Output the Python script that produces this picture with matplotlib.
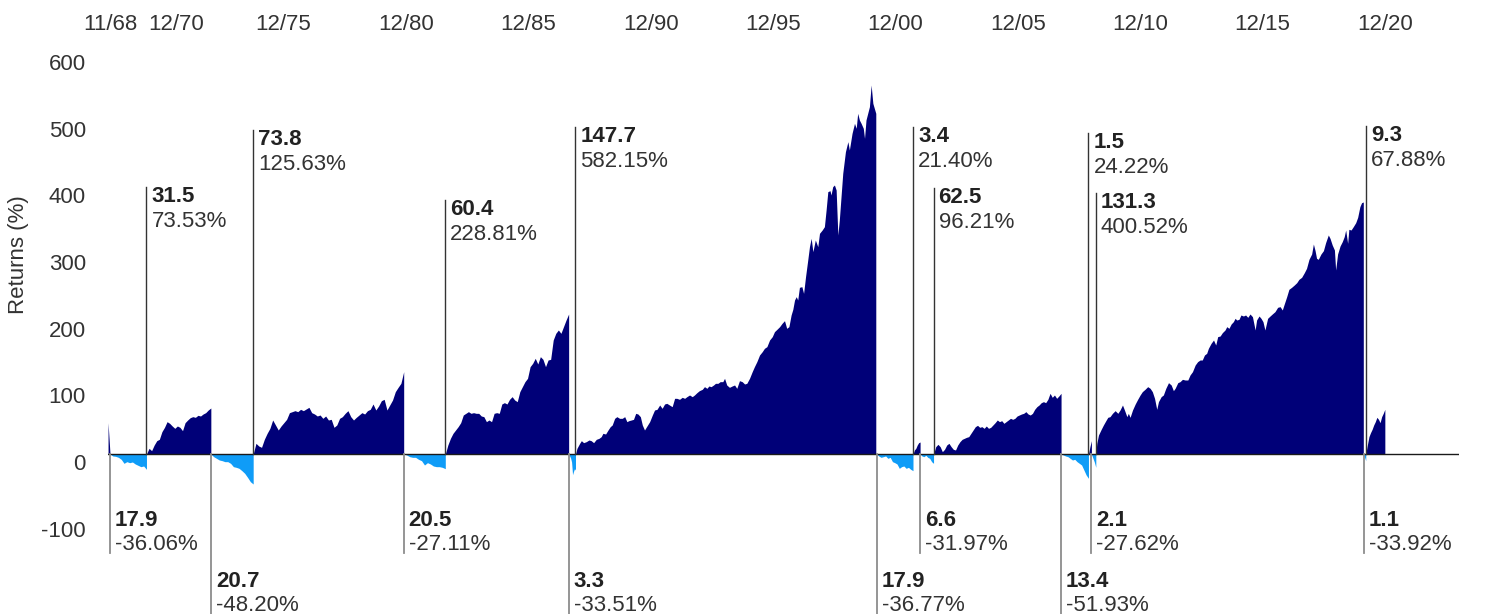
import numpy as np
import matplotlib.pyplot as plt
from matplotlib.transforms import ScaledTranslation

plt.rcParams['font.family'] = ['Liberation Sans', 'DejaVu Sans']

navy = '#000078'
sky = '#0f9cf7'

# each market: bear or bull, start date (decimal year), length in months, return
kinds = ['bear', 'bull', 'bear', 'bull', 'bear', 'bull', 'bear', 'bull', 'bear',
         'bull', 'bear', 'bull', 'bear', 'bull', 'bear', 'bull', 'bear', 'bull']
starts = [1968.91, 1970.40, 1973.03, 1974.76, 1980.91, 1982.61, 1987.65, 1987.93,
          2000.23, 2001.72, 2002.01, 2002.56, 2007.77, 2008.89, 2009.01, 2009.19,
          2020.13, 2020.22]
ends = starts[1:] + [2021.00]
months = ['17.9', '31.5', '20.7', '73.8', '20.5', '60.4', '3.3', '147.7', '17.9',
          '3.4', '6.6', '62.5', '13.4', '1.5', '2.1', '131.3', '1.1', '9.3']
returns = ['-36.06%', '73.53%', '-48.20%', '125.63%', '-27.11%', '228.81%', '-33.51%',
           '582.15%', '-36.77%', '21.40%', '-31.97%', '96.21%', '-51.93%', '24.22%',
           '-27.62%', '400.52%', '-33.92%', '67.88%']

# tail end of the 1966-68 bull market at the left edge
prev_dates = [1968.83, 1968.91]
prev_bull = [47, 0]

# cumulative return (%) inside each market
bear_1968 = [0, -3, -3.5, -5, -8, -14, -11.5, -13, -12, -15, -17, -19, -18, -23]
bull_1970 = [0, 8.5, 5, 13.5, 20, 22, 33.5, 40, 48.5, 46, 42, 38.5, 42, 40, 35, 47,
             51, 54.5, 56, 55, 58, 57, 60, 62, 66, 69]
bear_1973 = [0, -4, -6.5, -9, -10, -11.5, -11.5, -14, -19, -20, -21.5, -25, -29, -35,
             -41.5, -45]
bull_1974 = [0, 16, 12, 10, 22, 31, 38.5, 51, 43.5, 36, 42, 47, 52, 62, 63.5, 65, 63.5,
             67, 65, 67.5, 70, 62, 60, 57, 58.5, 53.5, 57, 51, 52, 40, 43.5, 53.5, 56,
             61, 65, 56, 51, 55, 58.5, 62, 60, 65, 67, 75, 66, 72, 80, 82, 66, 73.5, 81,
             93.5, 100, 106, 123.5]
bear_1980 = [0, -1.5, -4, -5, -5, -8, -10, -16.5, -13, -15, -18, -19, -19, -20, -22]
bull_1982 = [0, 13.5, 23.5, 31, 36, 41, 47, 58.5, 61, 63.5, 61, 62, 61, 61, 57, 56,
             48.5, 51, 48.5, 61, 62, 61, 75, 77, 75, 82, 86, 81, 78.5, 93.5, 101, 108.5,
             113.5, 131, 136, 143.5, 135, 146, 142, 131, 141, 142, 171, 181, 186, 181,
             191, 201, 210]
bear_1987 = [0, -3, -6, -12, -31, -26, -22, -24]
bull_1987_dates = [
    1987.93, 1987.99, 1988.10, 1988.17, 1988.26, 1988.37, 1988.48, 1988.57, 1988.67, 1988.78,
    1988.89, 1988.98, 1989.05, 1989.16, 1989.26, 1989.35, 1989.43, 1989.53, 1989.62, 1989.73,
    1989.84, 1989.94, 1990.03, 1990.11, 1990.21, 1990.30, 1990.39, 1990.48, 1990.58, 1990.66,
    1990.75, 1990.85, 1990.96, 1991.07, 1991.16, 1991.26, 1991.37, 1991.47, 1991.57, 1991.66,
    1991.77, 1991.88, 1991.98, 1992.07, 1992.18, 1992.29, 1992.39, 1992.48, 1992.59, 1992.70,
    1992.79, 1992.89, 1992.99, 1993.11, 1993.20, 1993.30, 1993.38, 1993.47, 1993.57, 1993.65,
    1993.75, 1993.84, 1993.95, 1994.02, 1994.11, 1994.22, 1994.33, 1994.43, 1994.52, 1994.63,
    1994.74, 1994.84, 1994.93, 1995.04, 1995.15, 1995.24, 1995.34, 1995.45, 1995.56, 1995.65,
    1995.75, 1995.86, 1995.97, 1996.06, 1996.16, 1996.27, 1996.37, 1996.47, 1996.56, 1996.65,
    1996.74, 1996.81, 1996.88, 1996.95, 1997.01, 1997.08, 1997.18, 1997.25, 1997.33, 1997.42,
    1997.49, 1997.56, 1997.63, 1997.73, 1997.83, 1997.90, 1998.01, 1998.10, 1998.17, 1998.24,
    1998.33, 1998.37, 1998.44, 1998.51, 1998.58, 1998.65, 1998.71, 1998.78, 1998.85, 1998.96,
    1999.06, 1999.12, 1999.23, 1999.33, 1999.40, 1999.46, 1999.53, 1999.60, 1999.69, 1999.74,
    1999.80, 1999.87, 1999.94, 2000.01, 2000.08, 2000.20]
bull_1987 = [
    0, 8.5, 16, 20, 17, 18.5, 21, 20, 17, 22,
    23.5, 26, 31, 30, 36, 41, 43.5, 53.5, 56, 53.5,
    53.5, 56, 48.5, 50, 51, 52, 61, 60, 56, 43.5,
    36, 42, 48.5, 58.5, 66, 67, 73.5, 68.5, 75, 76,
    73.5, 71, 83.5, 83.5, 82, 85, 83.5, 86, 88.5, 86,
    88.5, 92, 95, 97, 101, 98.5, 102, 101, 103.5, 106,
    106, 108.5, 108.5, 113.5, 103.5, 100, 102, 103.5, 98.5, 110,
    108.5, 105, 106, 113.5, 123.5, 131, 138.5, 148.5, 153.5, 158.5,
    161, 171, 176, 183.5, 187, 191, 196, 200, 188.5, 191,
    208.5, 217, 231, 236, 231, 250, 251, 241, 266, 291,
    311, 323.5, 303.5, 321, 311, 331, 336, 341, 366, 393.5,
    395, 388.5, 401, 403.5, 396, 328.5, 351, 386, 421, 453.5,
    468.5, 456, 481, 496, 488.5, 511, 501, 496, 488.5, 473.5,
    501, 511, 521, 553.5, 526, 511]
bear_2000 = [0, -3, -5, -4, -3, -6.5, -5, -11.5, -13, -15, -21.5, -19, -18, -21.5, -20,
             -23, -25]
bull_2001 = [0, 6, 8.5, 13.5, 17, 18]
bear_2002 = [0, -3, -4, -2, -5, -6.5, -11.5, -14]
bull_2002 = [0, 11, 14.5, 11, 3.5, 7, 13.5, 16, 11, 7, 6, 13.5, 18.5, 22, 23.5, 25, 26,
             31, 36, 41, 43, 40, 41, 38.5, 42, 38.5, 40, 43.5, 47, 51, 48.5, 50, 46, 48.5,
             51, 53.5, 52, 53.5, 57, 58.5, 60, 61, 63.5, 60, 58.5, 61, 67, 71, 73.5, 77,
             78.5, 77, 82, 91, 85, 88.5, 83.5, 87, 91]
bear_2007 = [0, -1.5, -3, -4, -6.5, -9, -8, -11.5, -14, -16.5, -24, -31.5, -36.5]
bull_2008 = [0, 11, 20]
bear_2009 = [0, -6, -12, -20]
bull_2009_dates = [
    2009.19, 2009.23, 2009.30, 2009.41, 2009.50, 2009.60, 2009.68, 2009.77, 2009.87, 2009.98,
    2010.09, 2010.18, 2010.28, 2010.36, 2010.46, 2010.52, 2010.59, 2010.69, 2010.80, 2010.90,
    2011.00, 2011.09, 2011.20, 2011.31, 2011.41, 2011.50, 2011.59, 2011.68, 2011.75, 2011.86,
    2011.95, 2012.05, 2012.16, 2012.27, 2012.36, 2012.43, 2012.54, 2012.63, 2012.73, 2012.84,
    2012.95, 2013.04, 2013.14, 2013.25, 2013.35, 2013.45, 2013.54, 2013.63, 2013.72, 2013.79,
    2013.90, 2014.00, 2014.09, 2014.17, 2014.27, 2014.36, 2014.47, 2014.54, 2014.63, 2014.72,
    2014.81, 2014.88, 2014.95, 2015.04, 2015.12, 2015.22, 2015.31, 2015.40, 2015.49, 2015.59,
    2015.70, 2015.76, 2015.86, 2015.94, 2016.02, 2016.10, 2016.21, 2016.31, 2016.40, 2016.51,
    2016.62, 2016.72, 2016.81, 2016.89, 2016.99, 2017.08, 2017.19, 2017.30, 2017.40, 2017.49,
    2017.60, 2017.71, 2017.80, 2017.90, 2018.01, 2018.08, 2018.15, 2018.21, 2018.28, 2018.39,
    2018.49, 2018.58, 2018.69, 2018.76, 2018.85, 2018.94, 2018.99, 2019.07, 2019.17, 2019.26,
    2019.34, 2019.40, 2019.48, 2019.53, 2019.62, 2019.71, 2019.81, 2019.89, 2019.98, 2020.05,
    2020.12]
bull_2009 = [
    0, 16, 28.5, 37, 43.5, 50, 55, 56, 61, 65,
    61, 66, 73.5, 66, 56, 61, 55, 66, 75, 82,
    88.5, 93.5, 97, 101, 98.5, 93.5, 83.5, 67, 78.5, 86,
    88.5, 98.5, 107, 103.5, 95, 98.5, 107, 108.5, 112, 111,
    111, 118.5, 123.5, 133.5, 138.5, 141, 141, 148.5, 151, 158.5,
    166, 171, 163.5, 176, 177, 182, 186, 191, 188.5, 195,
    198.5, 203.5, 201, 202, 208.5, 207, 208.5, 205, 210, 206,
    186, 201, 207, 203.5, 198.5, 186, 203.5, 207, 210, 213.5,
    220, 221, 216, 225, 236, 247, 250, 253.5, 257, 262,
    265, 272, 278.5, 292, 300, 315, 305, 293.5, 292, 300,
    305, 317, 328.5, 323.5, 313.5, 306, 276, 300, 312, 318.5,
    326, 336, 316, 337, 336, 341, 347, 355, 371, 377, 378]
bear_2020 = [0, -5, -10]
bull_2020 = [0, 13.5, 26, 32, 37, 43.5, 48.5, 55, 52, 47, 56, 61, 67]

series = [bear_1968, bull_1970, bear_1973, bull_1974, bear_1980, bull_1982, bear_1987,
          bull_1987, bear_2000, bull_2001, bear_2002, bull_2002, bear_2007, bull_2008,
          bear_2009, bull_2009, bear_2020, bull_2020]
series_dates = {7: bull_1987_dates, 15: bull_2009_dates}

tick_dates = [1968.91, 1971, 1976, 1981, 1986, 1991, 1996, 2001, 2006, 2011, 2016, 2021]
tick_labels = ['11/68', '12/70', '12/75', '12/80', '12/85', '12/90', '12/95', '12/00',
               '12/05', '12/10', '12/15', '12/20']
y_ticks = [-100, 0, 100, 200, 300, 400, 500, 600]
y_labels = ['-100', '0', '100', '200', '300', '400', '500', '600']

# where the annotation lines stop (layout only)
label_y = [-148.5, 400, -240, 486, -148.5, 381, -240, 490, -240, 490, -148.5, 399,
           -240, 481, -148.5, 391, -148.5, 492]

fig = plt.figure(figsize=(15.12, 6.14), dpi=100)
ax = fig.add_axes([108/1512, 0, 1351/1512, 560/614])
ax.set_xlim(1968.828, 2024.03)
ax.set_ylim(-240, 600)

ax.fill_between(prev_dates, 0, prev_bull, color=navy, lw=0)
for i, vals in enumerate(series):
    if i in series_dates:
        x = series_dates[i]
    else:
        x = np.linspace(starts[i], ends[i], len(vals))
    col = navy if kinds[i] == 'bull' else sky
    ax.fill_between(x, 0, vals, color=col, lw=0)

ax.axhline(0, color='#1a1a1a', lw=1, zorder=3)

for i in range(len(kinds)):
    x0 = starts[i]
    if kinds[i] == 'bull':
        ax.plot([x0, x0], [0, label_y[i]], color='#333333', lw=1, zorder=4)
        ax.annotate(months[i], (x0, label_y[i]), xytext=(5, -15), textcoords='offset pixels',
                    fontsize=16, fontweight='bold', color='#222222', va='baseline')
        ax.annotate(returns[i], (x0, label_y[i]), xytext=(5, -40), textcoords='offset pixels',
                    fontsize=16, color='#333333', va='baseline')
    else:
        ax.plot([x0, x0], [0, label_y[i]], color='#8c8c8c', lw=1.3, zorder=4, clip_on=False)
        ax.annotate(months[i], (x0, label_y[i]), xytext=(5, 27), textcoords='offset pixels',
                    fontsize=16, fontweight='bold', color='#222222', va='baseline')
        ax.annotate(returns[i], (x0, label_y[i]), xytext=(5, 3), textcoords='offset pixels',
                    fontsize=16, color='#333333', va='baseline')

for s in ax.spines.values():
    s.set_visible(False)

ax.xaxis.tick_top()
ax.set_xticks(tick_dates, tick_labels)
ax.tick_params(axis='x', length=0, pad=14, labelsize=16, labelcolor='#333333')
ax.get_xticklabels()[1].set_transform(ax.get_xticklabels()[1].get_transform()
                                      + ScaledTranslation(0.15, 0, fig.dpi_scale_trans))

ax.set_yticks(y_ticks, y_labels)
ax.tick_params(axis='y', length=0, pad=16, labelsize=16, labelcolor='#333333')
for lab in ax.get_yticklabels():
    lab.set_va('top')

fig.text(19/1512, 1 - 255/614, 'Returns (%)', rotation=90, ha='center', va='center',
         fontsize=16, color='#333333')

fig.savefig('out.png', dpi=100)
